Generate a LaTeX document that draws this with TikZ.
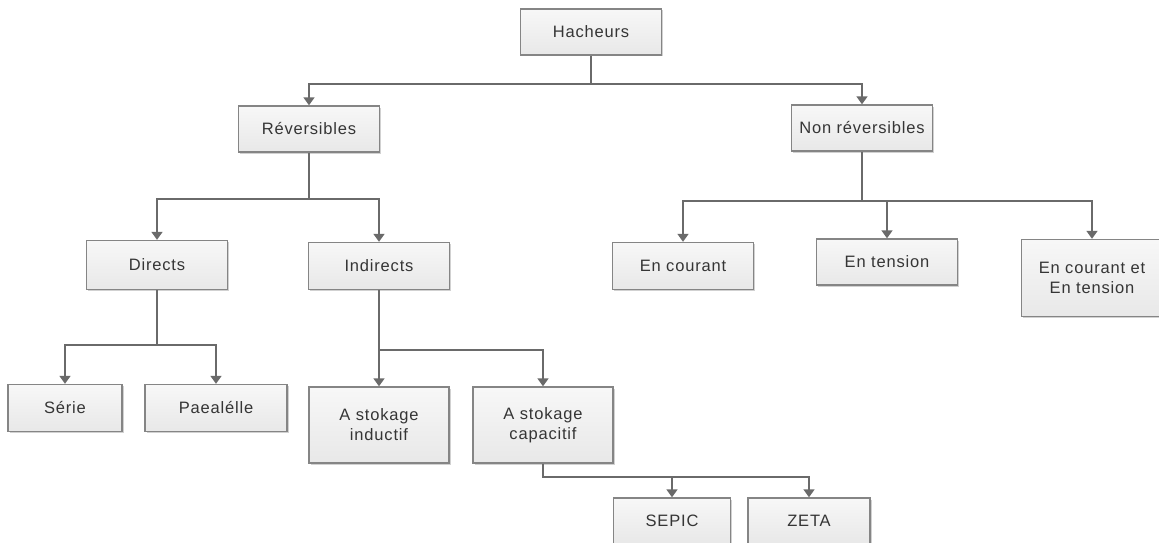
\documentclass[tikz,border=0pt]{standalone}
\usepackage{fontspec}
\setmainfont{Liberation Sans}[LetterSpace=5]
\usetikzlibrary{arrows.meta,shadows}
\definecolor{boxfill}{HTML}{F2F2F2}
\definecolor{boxline}{HTML}{858585}
\definecolor{conn}{HTML}{6A6A6A}
\definecolor{txt}{HTML}{353535}
\tikzset{
  box/.style={draw=boxline, line width=1.4pt, top color=white!97!black, bottom color=white!91!black,
    minimum width=141pt, minimum height=46pt, inner sep=2pt, align=center, text=txt,
    font=\fontsize{16.5}{20}\selectfont,
    drop shadow={shadow xshift=1.5pt, shadow yshift=-1.5pt, fill=black, opacity=0.18}},
  tall/.style={minimum height=76pt},
  link/.style={draw=conn, line width=1.7pt, -{Triangle[width=11pt,length=8pt]}},
}
\begin{document}
\begin{tikzpicture}[x=1pt,y=-1pt]
\useasboundingbox (0,0) rectangle (1159,543);
\fill[white] (0,0) rectangle (1159,543);

\node[box] (hach) at (591,32) {Hacheurs};
\node[box] (rev) at (309,129) {Réversibles};
\node[box] (nonrev) at (862,128) {Non réversibles};
\node[box, minimum height=49pt] (dir) at (157,265) {Directs};
\node[box, minimum height=47pt] (ind) at (379,266) {Indirects};
\node[box, minimum height=47pt] (cour) at (683,266) {En courant};
\node[box] (tens) at (887,262) {En tension};
\node[box, minimum height=77pt] (ct) at (1092,278) {En courant et\\En tension};
\node[box, minimum width=114pt, minimum height=47pt] (serie) at (65,408) {Série};
\node[box, minimum width=142pt, minimum height=47pt] (para) at (216,408) {Paealélle};
\node[box, tall, minimum width=140pt] (induc) at (379,425) {A stokage\\inductif};
\node[box, tall, minimum width=140pt] (capa) at (543,425) {A stokage\\capacitif};
\node[box, minimum width=117pt] (sepic) at (672,521) {SEPIC};
\node[box, minimum width=122pt] (zeta) at (809,521) {ZETA};

\coordinate (b1) at (591,84);
\coordinate (b2) at (309,199);
\coordinate (b3) at (862,201);
\coordinate (b4) at (157,345);
\coordinate (b5) at (379,350);
\coordinate (b6) at (543,477);

\draw[link] (hach.south) -- (b1) -| (rev.north);
\draw[link] (b1) -| (nonrev.north);
\draw[link] (rev.south) -- (b2) -| (dir.north);
\draw[link] (b2) -| (ind.north);
\draw[link] (nonrev.south) -- (b3) -| (cour.north);
\draw[link] (b3) -| (tens.north);
\draw[link] (b3) -| (ct.north);
\draw[link] (dir.south) -- (b4) -| (serie.north);
\draw[link] (b4) -| (para.north);
\draw[link] (ind.south) -- (induc.north);
\draw[link] (b5) -| (capa.north);
\draw[link] (capa.south) -- (b6) -| (sepic.north);
\draw[link] (b6) -| (zeta.north);
\end{tikzpicture}
\end{document}
